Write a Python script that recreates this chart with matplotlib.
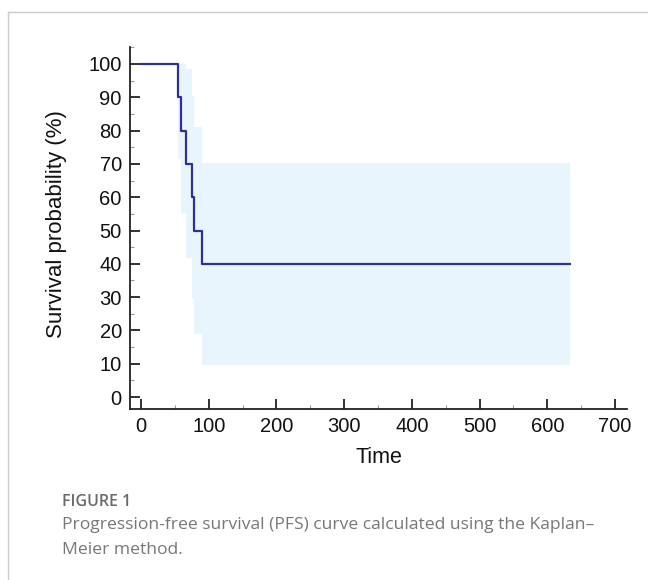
import matplotlib
matplotlib.use("Agg")
import matplotlib.pyplot as plt
from matplotlib.lines import Line2D
from matplotlib.ticker import MultipleLocator

# Kaplan-Meier step data
times = [0, 55, 59, 66, 75.5, 78, 90]
survival = [100, 90, 80, 70, 60, 50, 40]
end_time = 634
ci_lower = [100, 71.4, 55.2, 41.6, 29.6, 19.0, 9.6]
ci_upper = [100, 100, 100, 98.4, 90.4, 81.0, 70.4]

x_ticks = [0, 100, 200, 300, 400, 500, 600, 700]
y_ticks = [0, 10, 20, 30, 40, 50, 60, 70, 80, 90, 100]

curve_color = "#2e3192"
band_color = "#e9f5fc"
axis_color = "#222222"

plt.rcParams['font.family'] = ['Liberation Sans', 'DejaVu Sans']

fig = plt.figure(figsize=(6.48, 5.8), dpi=100)
ax = fig.add_axes([0.2009, 0.2948, 0.767, 0.6236])

xs = times + [end_time]
lo = ci_lower + [ci_lower[-1]]
up = ci_upper + [ci_upper[-1]]
sv = survival + [survival[-1]]

ax.fill_between(xs, lo, up, step='post', color=band_color, linewidth=0, zorder=1)
ax.step(xs, sv, where='post', color=curve_color, linewidth=1.6, zorder=3)

ax.set_xlim(-16, 718)
ax.set_ylim(-3.6, 105)
ax.set_xticks(x_ticks)
ax.set_yticks(y_ticks)
ax.xaxis.set_minor_locator(MultipleLocator(50))
ax.yaxis.set_minor_locator(MultipleLocator(5))

for s in ['top', 'right']:
    ax.spines[s].set_visible(False)
for s in ['left', 'bottom']:
    ax.spines[s].set_color(axis_color)
    ax.spines[s].set_linewidth(1.3)

ax.tick_params(which='major', direction='in', length=7, width=1.3, colors=axis_color,
               labelsize=14.5, labelcolor='#111111')
ax.tick_params(axis='y', which='major', pad=6)
ax.tick_params(axis='x', which='major', pad=6)
ax.tick_params(which='minor', direction='in', length=3, width=0.8, colors='#999999')

ax.set_xlabel('Time', fontsize=15.5, color='#111111', labelpad=8)
ax.set_ylabel('Survival probability (%)', fontsize=16, color='#111111')
ax.yaxis.set_label_coords(-0.128, 0.51)

# frame around figure panel
fig.add_artist(Line2D([8/648, 8/648], [0, 1 - 12/580], color='#cccccc', linewidth=1, transform=fig.transFigure))
fig.add_artist(Line2D([8/648, 1], [1 - 12/580, 1 - 12/580], color='#cccccc', linewidth=1, transform=fig.transFigure))

fig.text(62/648, 1 - 502/580, 'FIGURE 1', fontsize=11.5, fontweight='semibold', color='#6a6a6a',
         family=['Open Sans', 'DejaVu Sans'], va='center', ha='left')
fig.text(62/648, 1 - 525/580, 'Progression-free survival (PFS) curve calculated using the Kaplan–',
         fontsize=12.6, color='#777777', family=['Open Sans', 'DejaVu Sans'], va='center', ha='left')
fig.text(62/648, 1 - 550/580, 'Meier method.',
         fontsize=12.6, color='#777777', family=['Open Sans', 'DejaVu Sans'], va='center', ha='left')

fig.savefig('out.png', dpi=100, facecolor='white')
